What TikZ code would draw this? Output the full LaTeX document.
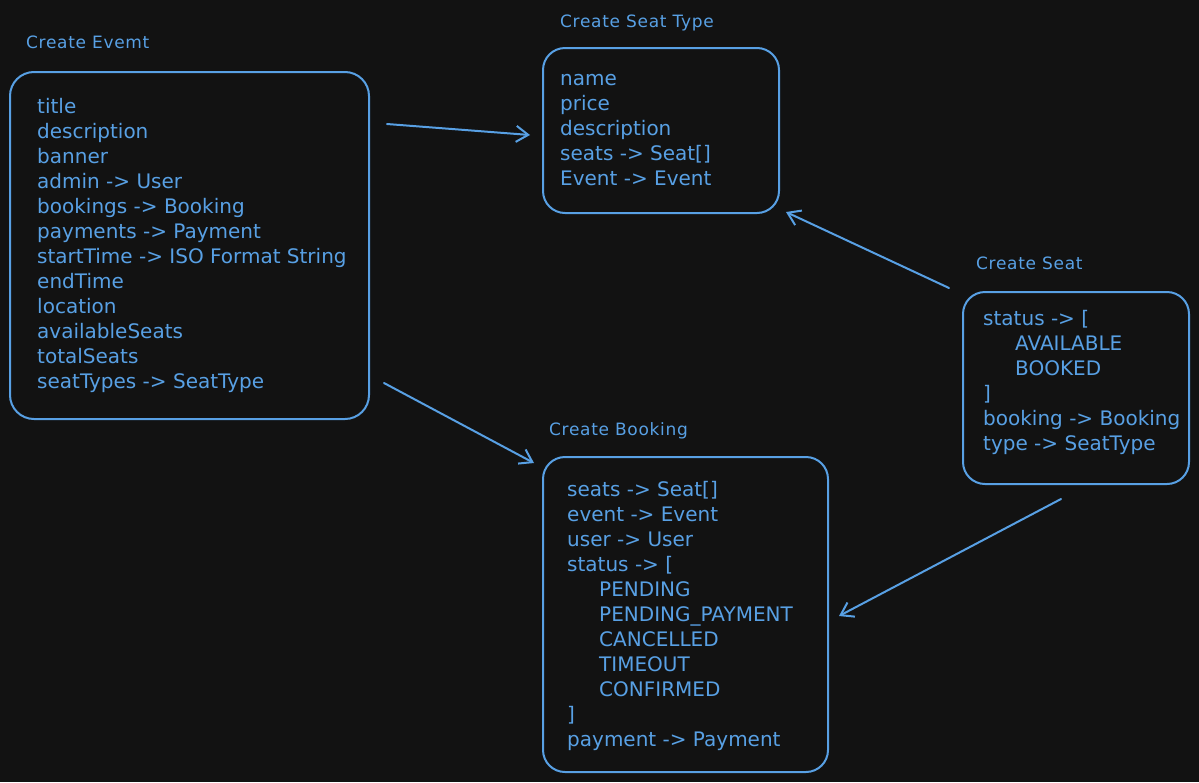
\documentclass[tikz,border=0pt]{standalone}
\usepackage{fontspec}
\setmainfont{DejaVu Sans}
\newfontfamily\titlefont[LetterSpace=4]{DejaVu Sans}
\usetikzlibrary{positioning,arrows.meta}
\definecolor{inkblue}{RGB}{88,160,228}
\definecolor{canvas}{RGB}{18,18,18}

\begin{document}
\begin{tikzpicture}[x=1pt,y=-1pt,
    box/.style={draw=inkblue, line width=2pt, rounded corners=24pt},
    fields/.style={text=inkblue, align=left, inner sep=0pt, anchor=west, font=\fontsize{20}{25}\selectfont},
    title/.style={text=inkblue, inner sep=0pt, text depth=0pt, font=\titlefont\fontsize{17}{20}\selectfont},
    link/.style={draw=inkblue, line width=2pt, line cap=round, -{Straight Barb[length=12pt,width=16pt]}}]
    \fill[canvas] (0,0) rectangle (1199,782);
    % boxes
    \node[box, minimum width=359, minimum height=347] at (189.5,245.5) (event) {};
    \node[box, minimum width=236, minimum height=165, rounded corners=22pt] at (661,130.5) (stype) {};
    \node[box, minimum width=226, minimum height=192, rounded corners=22pt] at (1076,388) (seat) {};
    \node[box, minimum width=285, minimum height=315, rounded corners=22pt] at (685.5,614.5) (booking) {};
    % titles
    \node[title, above right=22pt and 17pt of event.north west] (eventtitle) {Create Evemt};
    \node[title, above right=19pt and 18pt of stype.north west] (stypetitle) {Create Seat Type};
    \node[title, above right=21pt and 14pt of seat.north west] (seattitle) {Create Seat};
    \node[title, above right=20pt and 7pt of booking.north west] (bookingtitle) {Create Booking};
    % fields
    \node[fields, right=28pt of event.west] (eventtxt) {title\\description\\banner\\admin -> User\\bookings -> Booking\\payments -> Payment\\startTime -> ISO Format String\\endTime\\location\\availableSeats\\totalSeats\\seatTypes -> SeatType};
    \node[fields, right=18pt of stype.west] (stypetxt) {name\\price\\description\\seats -> Seat[]\\Event -> Event};
    \node[fields, right=21pt of seat.west, yshift=6pt] (seattxt) {status -> [\\\hspace*{32pt}AVAILABLE\\\hspace*{32pt}BOOKED\\]\\booking -> Booking\\type -> SeatType};
    \node[fields, right=25pt of booking.west, yshift=-1.5pt] (bookingtxt) {seats -> Seat[]\\event -> Event\\user -> User\\status -> [\\\hspace*{32pt}PENDING\\\hspace*{32pt}PENDING\_PAYMENT\\\hspace*{32pt}CANCELLED\\\hspace*{32pt}TIMEOUT\\\hspace*{32pt}CONFIRMED\\]\\payment -> Payment};
    % links
    \draw[link] ([shift={(17,53)}]event.north east) -- ([shift={(-12,88)}]stype.north west);
    \draw[link] ([shift={(14,-37)}]event.south east) -- ([shift={(-8,7)}]booking.north west);
    \draw[link] ([shift={(-13,-3)}]seat.north west) -- ([shift={(6,-2)}]stype.south east);
    \draw[link] ([shift={(-15,14)}]seat.south) -- ([shift={(10,1.5)}]booking.east);
\end{tikzpicture}
\end{document}
